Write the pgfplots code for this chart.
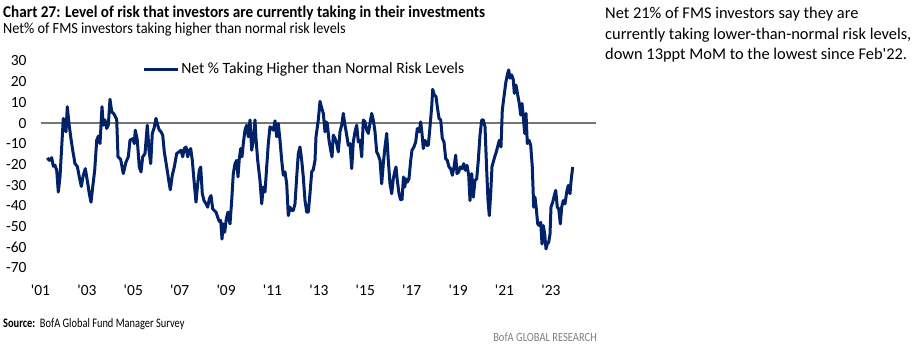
\documentclass[border=0pt]{standalone}
\usepackage{fontspec}
\setmainfont{Carlito}
\newfontfamily\titlefont[FakeStretch=0.92]{Carlito}
\newfontfamily\srcfont[FakeStretch=0.80]{Carlito}
\newfontfamily\brandfont[FakeStretch=0.84]{Carlito}
\usepackage{pgfplots}
\pgfplotsset{compat=1.18}
\usepackage{pgfplotstable}
\definecolor{bofablue}{RGB}{1,33,105}
\definecolor{zerogray}{RGB}{118,118,118}
\pgfplotstableread{
x y
47.3 -16.8
49.3 -18
51.7 -16.7
53.3 -20.9
55 -20.4
56.7 -22.8
58.3 -33.3
60 -26
61.7 -11.5
63.3 2.3
64.7 -1.8
66 -4.2
67.3 7.9
69 -0.2
70.7 -6.6
72.7 -13.1
75 -19.6
77.3 -20.9
79.3 -26
81.3 -30.6
83.3 -25.2
85.3 -22
87.3 -27.7
89.3 -34.1
91 -38.2
92.7 -30.9
94.7 -22.8
96.7 -8.3
98.3 -6.3
100 -9.9
102 7.9
103.3 -1
105 1.5
106.7 -2.6
108.3 -1
110 11.5
111.7 5.5
114 4.4
116.7 1.8
118 -16.3
120.7 -17.6
123.3 -24.4
126 -18.8
128.3 -16.3
130 -8.3
132.7 -7.5
134.3 -9.9
135.3 -3.4
137.3 -8.3
139.3 -21.2
141 -23.6
142.7 -16.3
145 -14.7
147.3 -1
149 -13.1
150.7 -19.6
152.3 -5
154 -2.6
156 2.3
157.7 -1
159.3 -3.4
161 -4.2
162.7 -5.8
164.3 -13.9
166.7 -21.2
169 -28.5
170.3 -32.2
172.3 -25.2
174.3 -21.2
176.7 -14.7
179 -13.9
181 -13.1
182.7 -16.3
184.3 -12.3
186 -11.5
187.7 -16.3
189.3 -13.1
190.7 -12.3
192.3 -18
194.3 -29.3
196 -38.2
197.7 -29.3
199.3 -22.8
200.7 -21.2
202.3 -34.1
204 -37.4
206 -39
207.7 -40.6
209.3 -36.6
211 -35
212.7 -41.4
214.3 -42.2
216 -43
217.7 -45.5
219.3 -47.5
220.7 -47
222 -56
223.3 -48.7
224.7 -52.8
226.3 -46.3
228 -43
230 -48.7
231.7 -37.4
233.3 -24.4
235 -19.6
236.7 -18
238 -26
239.3 -17.2
240.7 -12.3
242 -16.3
243.3 -9.9
245 -3.4
246.7 -1
248.3 -6.6
250 1.5
251.7 -13.1
253.3 -8.3
255 1.5
256 -7.4
257.7 -18
260 -27.7
261.7 -39
263.3 -30.9
265 -33.3
266.7 -21.2
268.3 -9.9
270 -1.8
271.7 -2.6
273.3 -3.4
275 1.1
276.7 -6.6
278.3 -0.2
280 -8.3
281.7 -18
283.3 -25.2
285 -23.6
286.7 -29.3
288.3 -44.7
290 -40.6
291.7 -42.2
293.3 -42.2
295 -39
296.7 -26
298.3 -14.7
300 -11.5
301.7 -18
303.3 -26
305 -37.4
306.7 -43
308.3 -43
310 -34
311.7 -23.5
313.3 -22.5
315 -18
316 -6.6
318.3 1.5
320 10.5
321.7 7.3
323.3 4.7
325 -4.2
326 0.6
327.3 -0.2
329 -8.3
330.7 -13.1
332 -16.3
333.3 -5.8
335 -7.4
336.7 -9.9
338.3 -13.9
340 -4.2
341.7 -1
343.3 4.7
345 -1
346.7 -5.8
348.3 -10.7
350 -9.9
351.7 -22
353.3 -9.1
355 -4.2
356.7 -1
358.3 -9.1
360 -8.3
361.7 -16.3
363.3 1.5
365 0.6
366.7 -3.4
368.3 -5
370 0
371.7 4.7
373.3 1.5
375 -4.2
376.7 -13.9
378.3 -15.5
380 -18
381.7 -29.3
383.3 -19.6
385 -11.5
386.7 -5
388.3 -18
390 -29.3
391.7 -34.1
393.3 -26.9
395 -22.8
396 -21.2
397.3 -27.7
399 -34
400.5 -37
402 -37
403.5 -26
404.7 -30.9
406 -26.9
407.3 -28.5
409 -26.9
410.7 -18
412 -13.1
414 -11.5
415.7 -9.1
417.3 -2.6
419 -4.2
420.7 0.6
422 -5
423.3 -12.3
425 -8.3
426.7 -10.7
428.3 -10.7
430 -1.8
431.7 7.9
432.7 16.3
434.3 13.6
436 12.8
437.3 7.9
439 2.3
440.7 1.5
442.3 -7.4
444 -9.1
445.7 -17.2
447.3 -18
449 -21.2
450.7 -22
452.3 -25.2
454 -21.2
455.7 -15.5
457 -24.4
458.7 -23.6
460.3 -21.2
462 -22
463.7 -19.6
465.3 -22.8
467 -20.4
468.7 -25.2
470 -37.4
471.7 -24.4
473.3 -35.8
475 -27.7
476.7 -26.9
478.3 -18
480 -5.8
481.7 1.5
483.3 1.5
485 -1.8
486.7 -22.8
488 -37.4
489.3 -44.7
490.7 -34
492 -21
494.7 -16.3
496.3 -13.9
498 -10.7
499.3 -8.3
501 -11.5
502.3 6.3
504 12.8
505.7 19.3
507.3 23.3
508.7 25.7
510 21.7
511.7 23.3
513.3 20.9
514.3 14.4
516 18.4
517.7 13.6
519.3 9.5
520.7 3.9
522 9.5
523.3 3.1
524.7 -5
526 4.7
527.3 -9.9
529 -8.3
530.7 -10.7
532.3 -21.2
533.7 -40.6
535 -35.8
536.3 -41.4
537.7 -48.7
539.3 -49.5
540.7 -47.9
542 -58.4
543.3 -49.5
544.7 -53.6
546 -60.8
547.3 -58.4
548.7 -57.6
550 -53.6
551 -40.6
552.7 -38.2
554.3 -35
555.7 -32.5
557.3 -40.6
558.7 -41.4
560.3 -48.7
561.7 -40.6
563.3 -37.4
565 -39
566.7 -33.3
568.3 -30.1
570 -34.1
571.3 -26.9
572.7 -21.2
}\riskdata
\begin{document}
\begin{tikzpicture}
\useasboundingbox (0,0) rectangle (924pt,-356pt);
\begin{axis}[
  at={(30pt,-268pt)}, anchor=south west,
  scale only axis, width=566pt, height=207pt,
  xmin=30, xmax=596, ymin=-70, ymax=30,
  ytick={-70,-60,-50,-40,-30,-20,-10,0,10,20,30},
  xtick={40.5,86.9,133.3,179.7,226.1,272.5,318.9,365.3,411.7,458.1,504.5,550.9},
  xticklabels={\textquotesingle01,\textquotesingle03,\textquotesingle05,\textquotesingle07,\textquotesingle09,\textquotesingle11,\textquotesingle13,\textquotesingle15,\textquotesingle17,\textquotesingle19,\textquotesingle21,\textquotesingle23},
  axis line style={draw=none},
  major tick length=0pt,
  /pgf/number format/assume math mode=true,
  tick label style={font=\fontsize{15.5}{18}\selectfont},
  xticklabel style={yshift=-13pt},
  clip=false,
  legend style={at={(0.198,0.961)}, anchor=west, draw=none, fill=none, inner sep=0pt,
    font=\fontsize{15.7}{19}\selectfont},
  legend image code/.code={\draw[#1] (0pt,0pt) -- (34pt,0pt);},
]
\addplot[zerogray, line width=1.4pt, forget plot] coordinates {(41,0) (596,0)};
\addplot[bofablue, line width=3pt, line join=round] table[x=x,y=y] {\riskdata};
\addlegendentry{Net \% Taking Higher than Normal Risk Levels}
\end{axis}
\node[anchor=base west, inner sep=0pt] at (3pt,-17pt) {\titlefont\bfseries\fontsize{16.5}{19}\selectfont Chart 27: Level of risk that investors are currently taking in their investments};
\node[anchor=base west, inner sep=0pt] at (3pt,-33pt) {\titlefont\fontsize{15.5}{18}\selectfont Net\% of FMS investors taking higher than normal risk levels};
\begin{scope}[every node/.style={anchor=base west, inner sep=0pt, font=\fontsize{16.4}{19}\selectfont}]
\node at (605pt,-19pt) {Net 21\% of FMS investors say they are};
\node at (605pt,-39pt) {currently taking lower-than-normal risk levels,};
\node at (605pt,-59pt) {down 13ppt MoM to the lowest since Feb\textquotesingle22.};
\end{scope}
\node[anchor=base west, inner sep=0pt] at (3pt,-327pt) {\srcfont\fontsize{13}{15}\selectfont\textbf{Source:}\ \ BofA Global Fund Manager Survey};
\node[anchor=base east, inner sep=0pt, text=gray] at (597pt,-341pt) {\brandfont\fontsize{12.5}{14}\selectfont BofA GLOBAL RESEARCH};
\end{tikzpicture}
\end{document}
